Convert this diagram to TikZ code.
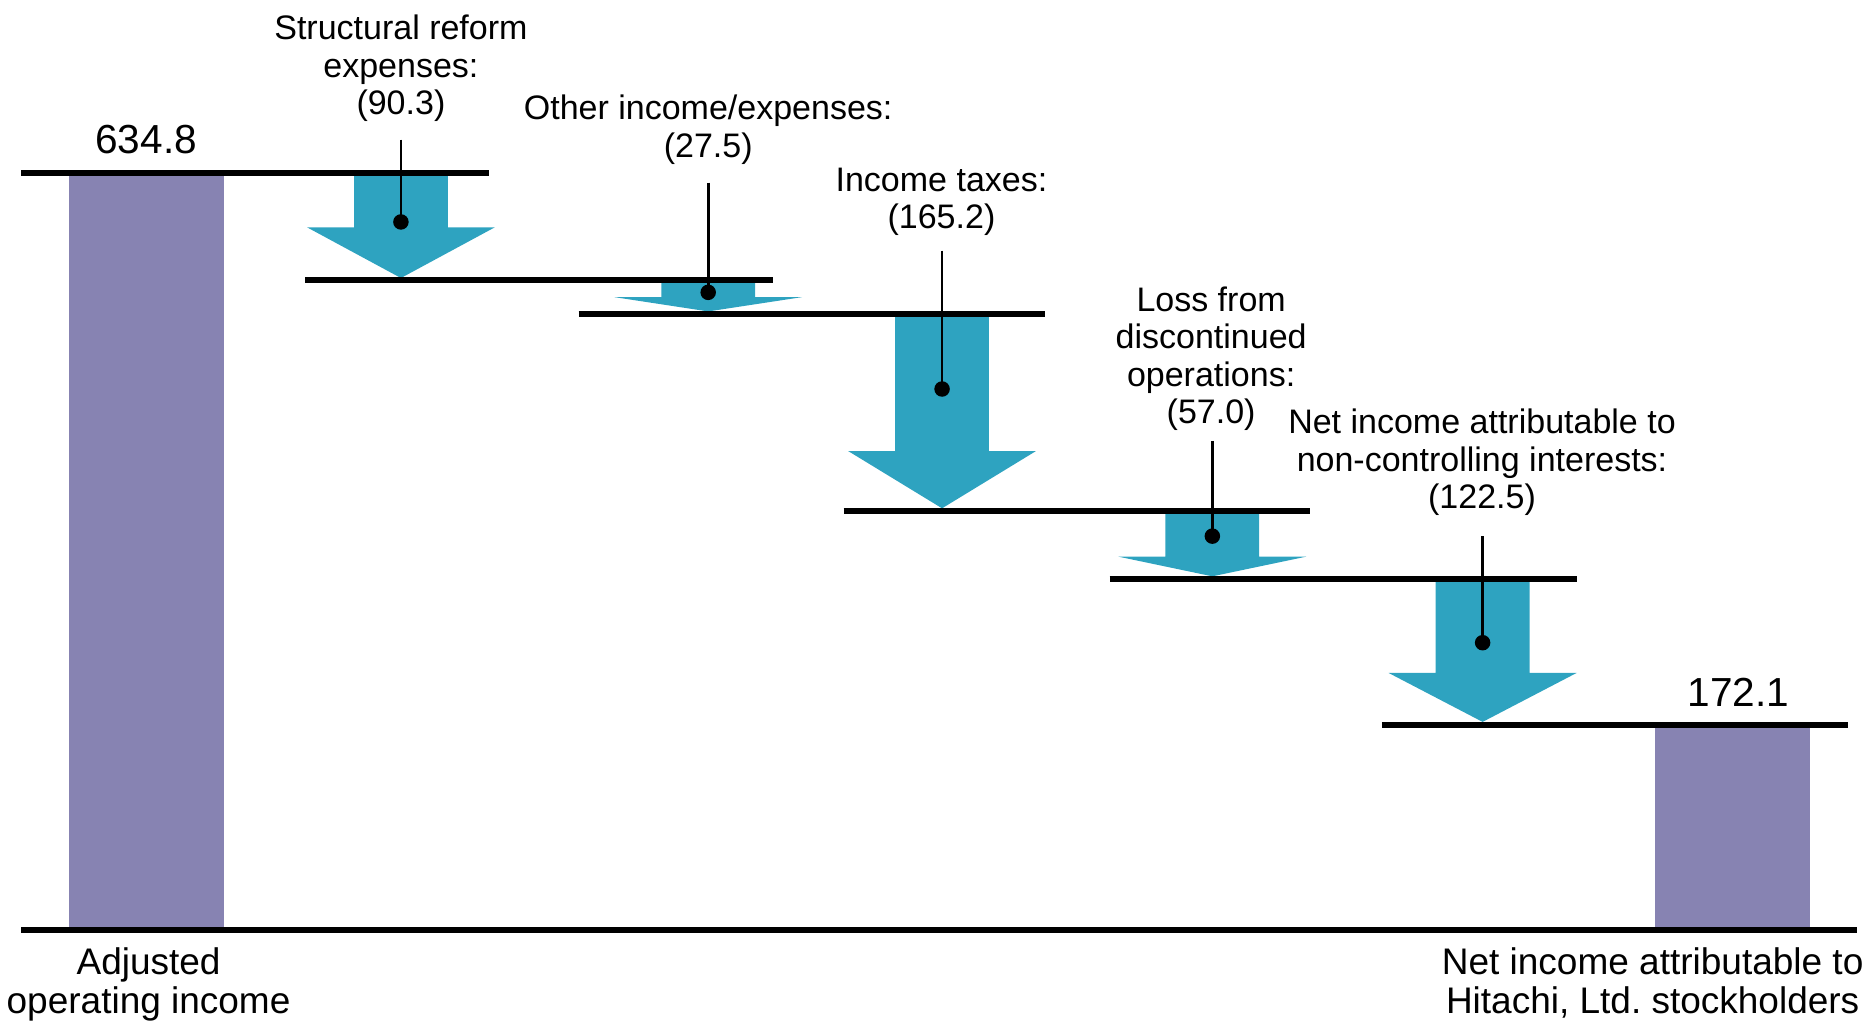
\documentclass[tikz,border=0pt]{standalone}
\usepackage{fontspec}
\setmainfont{Liberation Sans}
\definecolor{barpurple}{RGB}{135,131,178}
\definecolor{dropteal}{RGB}{46,163,192}
\frenchspacing
\begin{document}
\begin{tikzpicture}[x=1pt,y=-1pt]
        \tikzstyle{level}=[draw=black,line width=5pt]
        \tikzstyle{bar}=[fill=barpurple]
        \tikzstyle{drop}=[fill=dropteal]
        \tikzstyle{lead}=[draw=black,line width=2.2pt]
        \tikzstyle{dot}=[circle,fill=black,minimum size=13pt,inner sep=0pt]
        \tikzstyle{lbl}=[align=center,inner sep=0pt,anchor=north,font=\fontsize{28.5}{31.5}\selectfont]
        \tikzstyle{val}=[inner sep=0pt,anchor=base,font=\fontsize{34}{38}\selectfont]
        \tikzstyle{cat}=[align=center,inner sep=0pt,anchor=north,font=\fontsize{31}{32}\selectfont]
        \useasboundingbox (0,0) rectangle (1568,856);
       \begin{scope}
         % bars
         \fill[bar] (58,147) rectangle (188,777);
         \fill[bar] (1387,610) rectangle (1517,777);
         % drops
         \fill[drop] (296.7,145) -- (375.3,145) -- (375.3,190.5) -- (414.7,190.5) -- (336,233) -- (257.3,190.5) -- (296.7,190.5) -- cycle;
         \fill[drop] (554.2,235) -- (632.8,235) -- (632.8,249) -- (672.2,249) -- (593.5,261) -- (514.8,249) -- (554.2,249) -- cycle;
         \fill[drop] (750.2,263) -- (828.8,263) -- (828.8,378) -- (868.2,378) -- (789.5,426) -- (710.8,378) -- (750.2,378) -- cycle;
         \fill[drop] (976.7,428) -- (1055.3,428) -- (1055.3,466.5) -- (1094.7,466.5) -- (1016,483) -- (937.3,466.5) -- (976.7,466.5) -- cycle;
         \fill[drop] (1203.2,485) -- (1281.8,485) -- (1281.8,564) -- (1321.2,564) -- (1242.5,605) -- (1163.8,564) -- (1203.2,564) -- cycle;
         % levels
         \draw[level] (18,145) -- (410,145);
         \draw[level] (256,235) -- (648,235);
         \draw[level] (485,263.5) -- (876,263.5);
         \draw[level] (707,428.5) -- (1098,428.5);
         \draw[level] (930,485.5) -- (1322,485.5);
         \draw[level] (1158,607.5) -- (1549,607.5);
         \draw[level,line width=5.5pt] (18,779.5) -- (1556,779.5);
         % values
         \node[val] (v1) at (122.5,129) {634.8};
         \node[val] (v2) at (1457,592) {172.1};
         % labels
         \node[lbl] (l1) at (336,12.5) {Structural reform\\expenses:\\(90.3)};
         \node[lbl] (l2) at (593.5,79.5) {Other income/expenses:\\(27.5)};
         \node[lbl] (l3) at (789,140.5) {Income taxes:\\(165.2)};
         \node[lbl] (l4) at (1015,240) {Loss from\\discontinued\\operations:\\(57.0)};
         \node[lbl] (l5) at (1242,342.5) {Net income attributable to\\non-controlling interests:\\(122.5)};
         % leaders
         \coordinate (t1) at (336,117);
         \coordinate (t2) at (593.5,153);
         \coordinate (t3) at (789.5,210);
         \coordinate (t4) at (1016,369.5);
         \coordinate (t5) at (1242.5,449.5);
         \node[dot] (d1) at (336,186) {};
         \node[dot] (d2) at (593.5,245) {};
         \node[dot] (d3) at (789.5,326) {};
         \node[dot] (d4) at (1016,449.3) {};
         \node[dot] (d5) at (1242.5,538.6) {};
         \path[lead] (t1) -- (d1.center);
         \path[lead] (t2) -- (d2.center);
         \path[lead] (t3) -- (d3.center);
         \path[lead] (t4) -- (d4.center);
         \path[lead] (t5) -- (d5.center);
         % categories
         \node[cat] (c1) at (124.5,794.4) {Adjusted\\operating income};
         \node[cat] (c2) at (1385,794.4) {Net income attributable to\\Hitachi, Ltd. stockholders};
        \end{scope}
      \end{tikzpicture}
\end{document}
